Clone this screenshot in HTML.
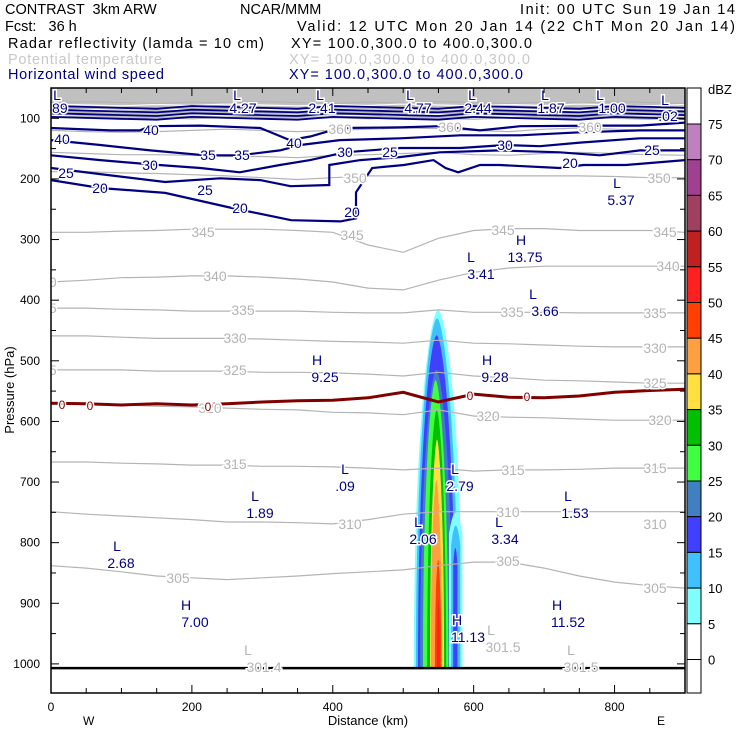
<!DOCTYPE html>
<html><head><meta charset="utf-8"><style>
html,body{margin:0;padding:0;background:#fff}
svg{display:block;font-family:"Liberation Sans",sans-serif}
#hdr text{white-space:pre}
</style></head><body>
<svg id="chart" width="740" height="740" viewBox="0 0 740 740" xmlns="http://www.w3.org/2000/svg">
<g id="hdr" font-size="14.5">
<text x="5" y="14">CONTRAST  3km ARW</text>
<text x="240" y="14">NCAR/MMM</text>
<text x="520" y="14" textLength="215">Init: 00 UTC Sun 19 Jan 14</text>
<text x="5" y="31">Fcst:   36 h</text>
<text x="297" y="31" textLength="438">Valid: 12 UTC Mon 20 Jan 14 (22 ChT Mon 20 Jan 14)</text>
<text x="8" y="48" textLength="256">Radar reflectivity (lamda = 10 cm)</text>
<text x="291" y="48" textLength="241">XY= 100.0,300.0 to 400.0,300.0</text>
<text x="8" y="64" textLength="154" fill="#c8c8c8">Potential temperature</text>
<text x="289" y="64" textLength="241" fill="#c8c8c8">XY= 100.0,300.0 to 400.0,300.0</text>
<text x="8" y="79" textLength="156" fill="#000080">Horizontal wind speed</text>
<text x="289" y="79" textLength="234" fill="#000080">XY= 100.0,300.0 to 400.0,300.0</text>
</g>
<defs><clipPath id="pc"><rect x="51" y="88" width="634" height="605"/></clipPath></defs>
<g id="plot" clip-path="url(#pc)"></g>
<g id="axes"></g>
<g id="cbar"></g>
</svg>
<script>
// ---- data ----
const xDomain = [0, 900];
const pDomain = [50, 1048];
const xTicks = [0, 200, 400, 600, 800];
const pTicks = [100, 200, 300, 400, 500, 600, 700, 800, 900, 1000];
const gridKm = [0,50,100,150,200,250,300,350,400,450,500,550,600,650,700,750,800,850,900];
const thetaLevels = [305,310,315,320,325,330,335,340,345,350,355,360];
const theta305 = [838,842,848,855,858,861,858,855,851,848,845,838,832,832,842,855,865,871,875];
const theta310 = [749,753,756,759,762,766,766,767,769,762,753,749,749,749,749,749,749,749,749];
const theta315 = [667,667,669,670,672,672,674,674,675,677,680,677,682,680,680,679,677,677,677];
const theta320 = [571,571,573,575,576,578,580,581,585,586,589,581,591,593,594,596,598,598,598];
const theta325 = [515,515,515,517,517,517,519,519,520,522,525,519,525,528,532,533,535,537,537];
const theta330 = [459,459,461,463,463,463,464,466,468,469,471,466,471,472,474,476,477,477,477];
const theta335 = [413,413,415,416,418,418,418,418,420,421,421,416,420,420,420,421,421,421,421];
const theta340 = [370,367,363,362,360,360,362,365,370,380,383,367,354,347,344,344,344,344,344];
const theta345 = [288,288,286,285,283,283,283,285,288,309,321,298,285,282,282,285,285,285,288];
const theta350 = [188,188,190,191,193,195,198,201,198,195,195,195,195,195,195,195,196,198,198];
const theta355 = [156,158,160,160,161,163,163,165,161,160,158,156,160,161,158,156,158,160,161];
const theta360 = [120,122,123,122,120,118,120,122,120,118,116,117,120,122,118,116,118,120,120];
const thetaUpper = [100,95,90,86,82,78,74];
const freezeP = [570,571,573,571,573,571,568,566,565,561,552,568,555,560,561,558,552,549,547];
const windLevels = [20,25,30,35,40];
const wind20Km = [0,70,162,257,341,411,433,433,456,501,543,560,578,609,637,722,756,816,900];
const wind20P  = [202,215,223,248,268,270,265,222,182,177,169,182,189,177,177,182,177,177,169];
const wind25Km = [0,70,162,240,297,340,395,395,439,495,552,637,722,779,836,900];
const wind25P  = [182,192,205,199,202,212,210,177,169,164,156,153,156,161,153,153];
const wind30Km = [0,70,141,212,268,325,368,417,496,581,645,694,751,836,900];
const wind30P  = [161,169,176,182,189,177,169,156,149,149,144,146,140,133,133];
const wind35Km = [0,70,141,219,268,325,354,410,496,581,666,751,836,900];
const wind35P  = [136,144,153,161,161,153,144,136,133,128,128,123,120,120];
const wind40Km = [0,84,126,141,212,297,339,368,410,496,552,609,666,780,836,900];
const wind40P  = [116,120,120,113,112,116,136,130,116,115,113,120,113,112,112,107];
const windUpper = [100,94,88,82];
const dbzLevels = [5,10,15,20,25,30,35,40,45,50,55,60,65,70,75];
const dbzColors = ["#80ffff","#40c0ff","#4040ff","#4080c0","#40ff40","#00c000","#ffe040","#ffa040","#ff4000","#ff2020","#c02020","#a04060","#a04090","#c080c0"];
const cellLeftKm  = [515,518,521,524,528,534,538,539,545,548];
const cellRightKm = [584,578,574,570,564,561,558,555,554,552];
const cellTopP    = [416,430,458,515,532,581,630,697,828,894];
const cell2LeftKm  = [565,568,571];
const cell2RightKm = [584,581,577];
const cell2TopP    = [730,754,795];
const surfaceP = 1007;

// ---- scales ----
const X0=51,X1=685,Y0=88,Y1=693;
const xs = k => X0 + (k-xDomain[0])/(xDomain[1]-xDomain[0])*(X1-X0);
const ys = p => Y0 + (p-pDomain[0])/(pDomain[1]-pDomain[0])*(Y1-Y0);
const NS="http://www.w3.org/2000/svg";
function mk(tag, attrs, parent){const e=document.createElementNS(NS,tag);for(const k in attrs)e.setAttribute(k,attrs[k]);parent.appendChild(e);return e;}
const plotG=document.getElementById('plot'), axesG=document.getElementById('axes'), cbarG=document.getElementById('cbar');
function pathOf(ks,ps){return ks.map((k,i)=>(i?'L':'M')+xs(k).toFixed(1)+','+ys(ps[i]).toFixed(1)).join('');}

// top gray band
const band=mk('rect',{x:X0,y:Y0,width:X1-X0,height:ys(thetaUpper[0])-Y0,fill:'#c0c0c0'},plotG);


thetaUpper.forEach((p,i)=>{
  const l=mk('path',{d:pathOf(gridKm,gridKm.map((k,j)=>p+((j*7+i*3)%5-2)*0.8)),fill:'none',stroke:i%2?'#ffffff':'#b4b4b4','stroke-width':1.2},plotG);
  
  
});

// reflectivity
cellTopP.forEach((tp,i)=>{
  const l=cellLeftKm[i], r=cellRightKm[i], c=(l+r)/2;
  const d=`M${xs(l)},${ys(surfaceP)} C${xs(l)},${ys(tp+(surfaceP-tp)*0.3)} ${xs(c-(r-l)*0.15)},${ys(tp)} ${xs(c)},${ys(tp)} C${xs(c+(r-l)*0.15)},${ys(tp)} ${xs(r)},${ys(tp+(surfaceP-tp)*0.3)} ${xs(r)},${ys(surfaceP)}Z`;
  const e=mk('path',{d:d,fill:dbzColors[i]},plotG);
  
  
});
cell2TopP.forEach((tp,i)=>{
  const l=cell2LeftKm[i], r=cell2RightKm[i], c=(l+r)/2;
  const d=`M${xs(l)},${ys(surfaceP)} L${xs(l)},${ys(tp+(surfaceP-tp)*0.2)} Q${xs(c)},${ys(tp-15)} ${xs(r)},${ys(tp+(surfaceP-tp)*0.2)} L${xs(r)},${ys(surfaceP)}Z`;
  const e=mk('path',{d:d,fill:dbzColors[i]},plotG);
  
  
});

// theta contours
const thetaSeries=[theta305,theta310,theta315,theta320,theta325,theta330,theta335,theta340,theta345,theta350,theta355,theta360];
thetaSeries.forEach((s,i)=>{
  const e=mk('path',{d:pathOf(gridKm,s),fill:'none',stroke:'#b4b4b4','stroke-width':1.2},plotG);
  
  
});
// wind contours
windUpper.forEach(p=>{
  const e=mk('path',{d:pathOf(gridKm,gridKm.map((k,j)=>p+((j*5)%4-1.5)*1.5)),fill:'none',stroke:'#000080','stroke-width':1.8},plotG);
  
  
});
const windKm=[wind20Km,wind25Km,wind30Km,wind35Km,wind40Km], windP=[wind20P,wind25P,wind30P,wind35P,wind40P];
windKm.forEach((ks,i)=>{
  const e=mk('path',{d:pathOf(ks,windP[i]),fill:'none',stroke:'#000080','stroke-width':2.2},plotG);
  
  
});
// freezing line
const fz=mk('path',{d:pathOf(gridKm,freezeP),fill:'none',stroke:'#800000','stroke-width':3},plotG);


// surface
const sf=mk('line',{x1:X0,x2:X1,y1:ys(surfaceP),y2:ys(surfaceP),stroke:'#000','stroke-width':2.5},plotG);



// labels (annotation text)
function lab(x,y,t,col,name,size){const e=mk('text',{x:x,y:y,'text-anchor':'middle',fill:col,'font-size':size||14,stroke:'#fff','stroke-width':3,'paint-order':'stroke'},plotG);e.textContent=t;

}
[[203,237,'345'],[352,240,'345'],[503,235,'345'],[665,237,'345'],[45,287,'340'],[215,281,'340'],[668,271,'340'],
 [45,313,'335'],[243,315,'335'],[512,317,'335'],[655,318,'335'],[235,343,'330'],[655,353,'330'],
 [45,375,'325'],[235,375,'325'],[655,388,'325'],[210,413,'320'],[488,421,'320'],[660,425,'320'],
 [235,469,'315'],[513,475,'315'],[655,473,'315'],[350,529,'310'],[508,517,'310'],[655,529,'310'],
 [178,583,'305'],[508,566,'305'],[655,593,'305'],[355,183,'350'],[659,183,'350'],[340,134,'360'],[450,132,'360'],[590,132,'360']]
 .forEach(a=>lab(a[0],a[1],a[2],'#b4b4b4','theta-label'));
[[62,144,'40'],[151,135,'40'],[294,148,'40'],[208,160,'35'],[242,160,'35'],[150,170,'30'],[345,157,'30'],[505,150,'30'],
 [66,178,'25'],[205,195,'25'],[390,157,'25'],[652,155,'25'],[100,193,'20'],[240,213,'20'],[352,217,'20'],[570,168,'20']]
 .forEach(a=>lab(a[0],a[1],a[2],'#000080','wind-label'));
[[62,409],[90,410],[208,411],[470,400],[527,401]].forEach(a=>lab(a[0],a[1],'0','#800000','freezing-label',12));
const hl=[['L','7.89',57,54],['L','4.27',237,243],['L','2.41',320,322],['L','4.77',410,418],['L','2.44',472,478],['L','1.87',545,551],['L','1.00',600,612]];
hl.forEach(h=>{lab(h[2],100,h[0],'#000080','low-marker');lab(h[3],113,h[1],'#000080','low-value');});
lab(665,105,'L','#000080','low-marker');lab(668,121,'.02','#000080','low-value');
[['L','5.37',617,621,188],['H','13.75',521,525,245],['L','3.41',471,481,262],['L','3.66',533,545,299],['H','9.25',317,325,365],['H','9.28',487,495,365],
 ['L','.09',345,345,474],['L','2.79',455,460,474],['L','1.89',255,260,501],['L','1.53',568,575,501],['L','2.06',418,423,527],['L','3.34',499,505,527],
 ['L','2.68',117,121,551],['H','7.00',186,195,610],['H','11.13',457,468,625],['H','11.52',557,568,610]]
 .forEach(h=>{lab(h[2],h[4],h[0],'#000080','extremum-marker');lab(h[3],h[4]+17,h[1],'#000080','extremum-value');});
[['L','301.4',248,264,655],['L','301.5',491,503,635],['L','301.5',571,581,655]]
 .forEach(h=>{lab(h[2],h[4],h[0],'#b4b4b4','theta-min-marker');lab(h[3],h[4]+17,h[1],'#b4b4b4','theta-min-value');});

// axes frame & ticks
const fr=mk('rect',{x:X0,y:Y0,width:X1-X0,height:Y1-Y0,fill:'none',stroke:'#000','stroke-width':1.5},axesG);


for(let k=0;k<=900;k+=50){const x=xs(k),L=k%200===0?8:5;
  mk('line',{x1:x,x2:x,y1:Y1,y2:Y1-L,stroke:'#000'},axesG);mk('line',{x1:x,x2:x,y1:Y0,y2:Y0+L,stroke:'#000'},axesG);}
xTicks.forEach(k=>{const t=mk('text',{x:xs(k),y:711,'text-anchor':'middle','font-size':12},axesG);t.textContent=k;

});
for(let p=100;p<=1000;p+=50){const y=ys(p),L=p%100===0?8:5;
  mk('line',{x1:X0,x2:X0+L,y1:y,y2:y,stroke:'#000'},axesG);mk('line',{x1:X1,x2:X1-L,y1:y,y2:y,stroke:'#000'},axesG);}
pTicks.forEach(p=>{const t=mk('text',{x:40,y:ys(p)+4,'text-anchor':'end','font-size':12},axesG);t.textContent=p;

});
const xt=mk('text',{x:368,y:725,'text-anchor':'middle','font-size':13},axesG);xt.textContent='Distance (km)';


const yt=mk('text',{x:14,y:390,'text-anchor':'middle','font-size':13,transform:'rotate(-90 14 390)'},axesG);yt.textContent='Pressure (hPa)';


const wLab=mk('text',{x:83,y:725,'font-size':12},axesG);wLab.textContent='W';


const eLab=mk('text',{x:657,y:725,'font-size':12},axesG);eLab.textContent='E';



// colorbar
const CB0=88,CBs=35.7,CBx=687,CBw=14;
const cbLabels=[75,70,65,60,55,50,45,40,35,30,25,20,15,10,5,0];
const cbTop=mk('rect',{x:CBx,y:CB0,width:CBw,height:36,fill:'#fff',stroke:'#000'},cbarG);


for(let i=0;i<dbzColors.length;i++){
  const idx=dbzColors.length-1-i;
  const r=mk('rect',{x:CBx,y:CB0+36+i*CBs,width:CBw,height:CBs,fill:dbzColors[idx],stroke:'#000'},cbarG);
  
  
}
const yb=CB0+36+dbzColors.length*CBs;
const cb0=mk('rect',{x:CBx,y:yb,width:CBw,height:CBs,fill:'#fff',stroke:'#000'},cbarG);


const cbBot=mk('rect',{x:CBx,y:yb+CBs,width:CBw,height:Y1-(yb+CBs),fill:'#fff',stroke:'#000'},cbarG);


cbLabels.forEach((v,i)=>{const t=mk('text',{x:708,y:CB0+36+i*CBs+5,'font-size':13},cbarG);t.textContent=v;

});
const unitLab=mk('text',{x:708,y:94,'font-size':13},cbarG);unitLab.textContent='dBZ';


</script>
</body></html>
